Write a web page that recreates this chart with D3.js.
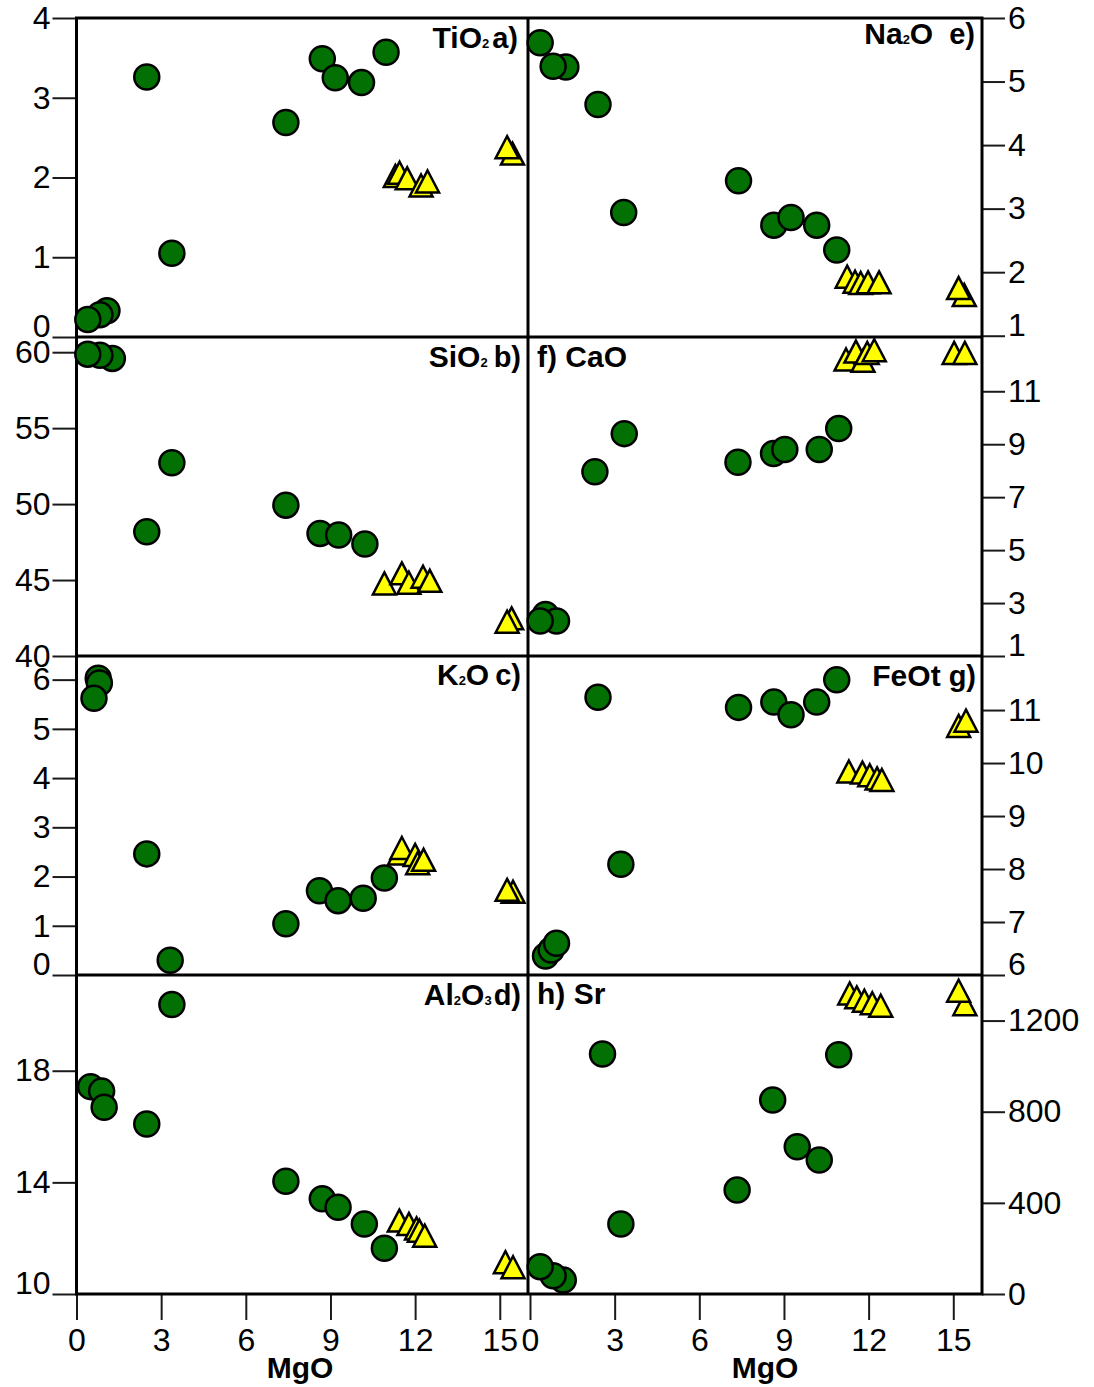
<!DOCTYPE html>
<html><head><meta charset="utf-8">
<script src="https://cdn.jsdelivr.net/npm/d3@7"></script>
<style>body{margin:0;background:#fff}svg{display:block}</style>
</head><body>
<svg id="chart" width="1094" height="1387"></svg>
<script>
// ---------- data (MgO, value) ----------
const mgoTicks = [0, 3, 6, 9, 12, 15];
const mgoDomain = [0, 16];

const tio2Ticks = [0, 1, 2, 3, 4];
const tio2Circles = [[1.08,0.33],[0.83,0.28],[0.40,0.22],[2.49,3.26],[3.38,1.05],[7.42,2.69],[8.71,3.49],[9.17,3.25],[10.10,3.19],[10.97,3.57]];
const tio2Triangles = [[11.30,2.02],[11.45,2.06],[11.72,1.99],[12.21,1.90],[12.44,1.95],[15.45,2.30],[15.26,2.38]];

const sio2Ticks = [40, 45, 50, 55, 60];
const sio2Circles = [[1.27,59.59],[0.83,59.80],[0.40,59.87],[2.49,48.18],[3.38,52.72],[7.42,49.93],[8.63,48.07],[9.29,47.96],[10.22,47.37]];
const sio2Triangles = [[10.91,44.78],[11.53,45.44],[11.78,44.82],[12.28,45.22],[12.52,44.95],[15.42,42.48],[15.26,42.26]];

const k2oTicks = [0, 1, 2, 3, 4, 5, 6];
const k2oCircles = [[0.77,6.03],[0.81,5.93],[0.62,5.62],[2.49,2.46],[3.32,0.30],[7.42,1.04],[8.61,1.71],[9.27,1.51],[10.16,1.56],[10.91,1.97]];
const k2oTriangles = [[11.45,2.47],[11.53,2.58],[12.00,2.44],[12.09,2.27],[12.30,2.34],[15.47,1.69],[15.26,1.73]];

const al2o3Ticks = [10, 14, 18];
const al2o3Circles = [[0.50,17.43],[0.89,17.27],[0.98,16.69],[2.49,16.09],[3.38,20.37],[7.42,14.04],[8.71,13.41],[9.27,13.11],[10.20,12.51],[10.91,11.64]];
const al2o3Triangles = [[11.44,12.63],[11.78,12.51],[12.05,12.35],[12.15,12.27],[12.34,12.09],[15.20,11.14],[15.47,10.96]];

const na2oTicks = [1, 2, 3, 4, 5, 6];
const na2oCircles = [[1.27,5.23],[0.82,5.24],[0.36,5.61],[2.41,4.64],[3.32,2.94],[7.39,3.44],[8.64,2.74],[9.25,2.86],[10.16,2.74],[10.87,2.35]];
const na2oTriangles = [[11.24,1.93],[11.52,1.85],[11.72,1.83],[11.98,1.84],[12.37,1.84],[15.39,1.64],[15.19,1.75]];

const caoTicks = [1, 3, 5, 7, 9, 11];
const caoCircles = [[0.55,2.57],[0.94,2.32],[0.36,2.32],[2.30,7.96],[3.34,9.40],[7.37,8.32],[8.63,8.65],[9.03,8.80],[10.25,8.80],[10.94,9.59]];
const caoTriangles = [[11.20,12.20],[11.55,12.50],[11.80,12.15],[11.95,12.45],[12.20,12.55],[15.03,12.45],[15.41,12.45]];

const feotTicks = [6, 7, 8, 9, 10, 11];
const feotCircles = [[0.55,6.36],[0.75,6.47],[0.94,6.60],[2.41,11.24],[3.22,8.09],[7.39,11.05],[8.64,11.15],[9.25,10.91],[10.16,11.15],[10.87,11.57]];
const feotTriangles = [[11.30,9.84],[11.78,9.82],[12.04,9.77],[12.30,9.71],[12.47,9.68],[15.19,10.70],[15.45,10.80]];

const srTicks = [0, 400, 800, 1200];
const srCircles = [[1.18,61],[0.82,80],[0.36,120],[2.57,1053],[3.22,307],[7.34,456],[8.60,851],[9.47,646],[10.25,588],[10.94,1050]];
const srTriangles = [[11.33,1319],[11.58,1302],[11.85,1287],[12.13,1276],[12.43,1265],[15.41,1272],[15.19,1331]];

// ---------- layout ----------
const FONT = '"Liberation Sans", Arial, Helvetica, sans-serif';
const TICK_FS = 32;
const colRange = [[76.5, 528], [530, 981.5]];
const colEdge = [76.5, 528, 982];
const rowEdges = [18, 337, 656, 975, 1294];
const GREEN = '#027002', YELLOW = '#ffff00';

const panels = [
  {col:0,row:0,yDomain:[0,4],ticks:tio2Ticks,circ:tio2Circles,tri:tio2Triangles,bottomUp:true,
   label:{anchor:'end',x:518,y:48,parts:[['TiO',30],['2',13],['a)',29,3]]}},
  {col:0,row:1,yDomain:[40,61],ticks:sio2Ticks,circ:sio2Circles,tri:sio2Triangles,bottomUp:false,
   label:{anchor:'end',x:521,y:367,parts:[['SiO',30],['2',13],['b)',29,6]]}},
  {col:0,row:2,yDomain:[0,6.48],ticks:k2oTicks,circ:k2oCircles,tri:k2oTriangles,bottomUp:true,
   label:{anchor:'end',x:521,y:685,parts:[['K',30],['2',13],['O',30],['c)',29,6]]}},
  {col:0,row:3,yDomain:[10,21.43],ticks:al2o3Ticks,circ:al2o3Circles,tri:al2o3Triangles,bottomUp:true,
   label:{anchor:'end',x:521,y:1005,parts:[['Al',30],['2',13],['O',30],['3',13],['d)',29,2]]}},
  {col:1,row:0,yDomain:[0.98,6],ticks:na2oTicks,circ:na2oCircles,tri:na2oTriangles,bottomUp:true,
   label:{anchor:'end',x:975,y:44,parts:[['Na',30],['2',13],['O',30],['e)',29,16]]}},
  {col:1,row:1,yDomain:[1,13.05],ticks:caoTicks,circ:caoCircles,tri:caoTriangles,bottomUp:true,
   label:{anchor:'start',x:537,y:367,parts:[['f) CaO',30]]}},
  {col:1,row:2,yDomain:[6,12.02],ticks:feotTicks,circ:feotCircles,tri:feotTriangles,bottomUp:true,
   label:{anchor:'end',x:976,y:686,parts:[['FeOt',30],['g)',29,8]]}},
  {col:1,row:3,yDomain:[0,1400],ticks:srTicks,circ:srCircles,tri:srTriangles,bottomUp:false,
   label:{anchor:'start',x:537,y:1004,parts:[['h) Sr',30]]}}
];

const svg = d3.select('#chart');
svg.append('rect').attr('width',1094).attr('height',1387).attr('fill','#fff');

const axesG = svg.append('g');
const frameG = svg.append('g');
const markG = svg.append('g');

panels.forEach(p => {
  const x = d3.scaleLinear().domain(mgoDomain).range(colRange[p.col]);
  const y = d3.scaleLinear().domain(p.yDomain).range([rowEdges[p.row+1], rowEdges[p.row]]);
  p.x = x; p.y = y;

  // y axis
  const ax = (p.col === 0 ? d3.axisLeft(y).tickSize(24) : d3.axisRight(y).tickSize(23))
    .tickPadding(p.col === 0 ? 2 : 3).tickValues(p.ticks).tickFormat(d3.format('d'));
  const g = axesG.append('g')
    .attr('transform', `translate(${p.col === 0 ? colEdge[0] : colEdge[2]},0)`)
    .call(ax);
  g.select('.domain').remove();
  g.selectAll('.tick line').attr('stroke','#1a1a1a').attr('stroke-width',2);
  g.selectAll('.tick text').attr('font-size',TICK_FS).attr('font-family',FONT).attr('fill','#000');
  if (p.bottomUp) {
    const lo = d3.min(p.ticks);
    g.selectAll('.tick').filter(d => d === lo).select('text').attr('dy','-0.02em');
  }

  // x axis for bottom row
  if (p.row === 3) {
    const xa = d3.axisBottom(x).tickValues(mgoTicks).tickSize(26).tickPadding(8).tickFormat(d3.format('d'));
    const gx = axesG.append('g').attr('transform',`translate(0,${rowEdges[4]})`).call(xa);
    gx.select('.domain').remove();
    gx.selectAll('.tick line').attr('stroke','#1a1a1a').attr('stroke-width',2);
    gx.selectAll('.tick text').attr('font-size',TICK_FS).attr('font-family',FONT).attr('fill','#000');
    axesG.append('text')
      .attr('x', p.col === 0 ? 300 : 765).attr('y', 1378)
      .attr('text-anchor','middle').attr('font-family',FONT).attr('font-weight','bold')
      .attr('font-size',30).text('MgO');
  }

  // panel label
  const t = frameG.append('text')
    .attr('x',p.label.x).attr('y',p.label.y)
    .attr('text-anchor',p.label.anchor)
    .attr('font-family',FONT).attr('font-weight','bold').attr('fill','#000');
  p.label.parts.forEach(part => {
    t.append('tspan').attr('font-size',part[1]).attr('dx',part[2] || 0).text(part[0]);
  });
});

// frame
frameG.append('rect')
  .attr('x',colEdge[0]).attr('y',rowEdges[0])
  .attr('width',colEdge[2]-colEdge[0]).attr('height',rowEdges[4]-rowEdges[0])
  .attr('fill','none').attr('stroke','#000').attr('stroke-width',3);
frameG.append('line').attr('x1',colEdge[1]).attr('x2',colEdge[1])
  .attr('y1',rowEdges[0]).attr('y2',rowEdges[4]).attr('stroke','#000').attr('stroke-width',3);
[1,2,3].forEach(i => {
  frameG.append('line').attr('x1',colEdge[0]).attr('x2',colEdge[2])
    .attr('y1',rowEdges[i]).attr('y2',rowEdges[i]).attr('stroke','#000').attr('stroke-width',3);
});

// markers
const triPath = 'M0,-11L11.5,11L-11.5,11Z';
panels.forEach(p => {
  markG.append('g').selectAll('circle').data(p.circ).join('circle')
    .attr('cx', d => p.x(d[0])).attr('cy', d => p.y(d[1])).attr('r', 12.5)
    .attr('fill', GREEN).attr('stroke','#000').attr('stroke-width',2.5);
  markG.append('g').selectAll('path').data(p.tri).join('path')
    .attr('d', triPath)
    .attr('transform', d => `translate(${p.x(d[0])},${p.y(d[1])})`)
    .attr('fill', YELLOW).attr('stroke','#000').attr('stroke-width',2.5)
    .attr('stroke-linejoin','miter');
});
</script>
</body></html>
